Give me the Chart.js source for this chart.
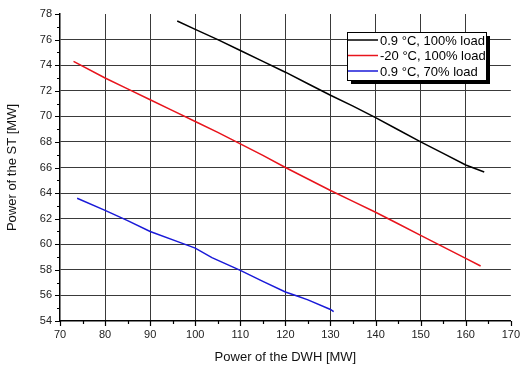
<!DOCTYPE html>
<html>
<head>
<meta charset="utf-8">
<script src="https://cdn.jsdelivr.net/npm/chart.js@4.4.0/dist/chart.umd.min.js"></script>
<style>
  html, body { margin: 0; padding: 0; background: #fff; }
</style>
</head>
<body>
<canvas id="chart" width="520" height="367"></canvas>
<script>
const seriesLabels = ['0.9 °C, 100% load', '-20 °C, 100% load', '0.9 °C, 70% load']
const seriesColors = ['#000000', '#e8141c', '#1a1ad8']

const blackX = [96, 100, 105, 110, 115, 120, 125, 130, 135, 140, 145, 150, 155, 160, 164.1]
const blackY = [77.45, 76.8, 76.0, 75.15, 74.3, 73.45, 72.55, 71.65, 70.8, 69.9, 68.95, 68.0, 67.1, 66.2, 65.65]

const redX = [73.0, 80, 85, 90, 95, 100, 105, 110, 115, 120, 125, 130, 135, 140, 145, 150, 155, 160, 163.3]
const redY = [74.3, 73.0, 72.15, 71.3, 70.45, 69.6, 68.75, 67.85, 66.95, 66.0, 65.1, 64.2, 63.35, 62.5, 61.6, 60.7, 59.8, 58.9, 58.3]

const blueX = [73.8, 80, 85, 90, 96.7, 100, 103.7, 110, 115, 120, 122.6, 125, 130, 130.7]
const blueY = [63.6, 62.65, 61.85, 61.0, 60.13, 59.7, 58.95, 57.96, 57.1, 56.27, 55.95, 55.65, 54.9, 54.73]

const xTicks = { min: 70, max: 170, step: 10, minor: 5 }
const yTicks = { min: 54, max: 78, step: 2, minor: 1 }

const toPoints = (xs, ys) => xs.map((x, i) => ({ x, y: ys[i] }))
const allSeries = [toPoints(blackX, blackY), toPoints(redX, redY), toPoints(blueX, blueY)]

const FONT = 'Arial, "Liberation Sans", sans-serif'

// tick marks (major + minor) drawn on the axes
const axisTicks = {
  id: 'axisTicks',
  afterDraw(chart) {
    const { ctx, chartArea, scales } = chart
    ctx.save()
    ctx.strokeStyle = '#000'
    ctx.lineWidth = 1.2
    ctx.beginPath()
    for (let v = xTicks.min; v <= xTicks.max; v += xTicks.minor) {
      const px = Math.round(scales.x.getPixelForValue(v)) + 0.5
      const len = v % xTicks.step === 0 ? 5 : 3
      ctx.moveTo(px, chartArea.bottom)
      ctx.lineTo(px, chartArea.bottom + len)
    }
    for (let v = yTicks.min; v <= yTicks.max; v += yTicks.minor) {
      const py = Math.round(scales.y.getPixelForValue(v)) + 0.5
      const len = v % yTicks.step === 0 ? 5 : 3
      ctx.moveTo(chartArea.left, py)
      ctx.lineTo(chartArea.left - len, py)
    }
    ctx.stroke()
    ctx.restore()
  },
}

// legend box with drop shadow inside the plot
const boxLegend = {
  id: 'boxLegend',
  afterDraw(chart) {
    const { ctx } = chart
    const x = 347, y = 32, w = 139, h = 48
    ctx.save()
    ctx.fillStyle = '#000'
    ctx.fillRect(x + 4, y + 4, w, h)
    ctx.fillStyle = '#fff'
    ctx.fillRect(x, y, w, h)
    ctx.strokeStyle = '#000'
    ctx.lineWidth = 1
    ctx.strokeRect(x + 0.5, y + 0.5, w, h)
    ctx.font = '13px ' + FONT
    ctx.textBaseline = 'middle'
    chart.data.datasets.forEach((ds, i) => {
      const ly = y + 8 + i * 15.5
      ctx.strokeStyle = ds.borderColor
      ctx.lineWidth = 1.5
      ctx.beginPath()
      ctx.moveTo(x + 1, ly)
      ctx.lineTo(x + 31, ly)
      ctx.stroke()
      ctx.fillStyle = '#000'
      ctx.fillText(ds.label, x + 33, ly + 1)
    })
    ctx.restore()
  },
}

const gridColor = (limits) => (context) => {
  const v = context.tick && context.tick.value
  if (v === limits.min || v === limits.max) return 'rgba(0,0,0,0)'
  return '#3a3a3a'
}

new Chart(document.getElementById('chart'), {
  type: 'line',
  data: {
    datasets: allSeries.map((pts, i) => ({
      label: seriesLabels[i],
      data: pts,
      borderColor: seriesColors[i],
      borderWidth: 1.5,
      pointRadius: 0,
      tension: 0,
      fill: false,
    })),
  },
  options: {
    responsive: false,
    animation: false,
    devicePixelRatio: 1,
    layout: { padding: { top: 14, right: 0, left: 0, bottom: 0 } },
    plugins: { legend: { display: false }, tooltip: { enabled: false } },
    scales: {
      x: {
        type: 'linear',
        min: xTicks.min,
        max: xTicks.max,
        afterFit: (scale) => { scale.height = 46 },
        ticks: { stepSize: xTicks.step, color: '#222', font: { family: FONT, size: 11 }, padding: 0, maxRotation: 0 },
        grid: { color: gridColor(xTicks), lineWidth: 1, drawTicks: true, tickLength: 7, tickColor: 'rgba(0,0,0,0)' },
        border: { display: true, color: '#000', width: 1.5 },
        title: { display: true, text: 'Power of the DWH [MW]', color: '#111', font: { family: FONT, size: 13 }, padding: { top: 0, bottom: 2 } },
      },
      y: {
        min: yTicks.min,
        max: yTicks.max,
        afterFit: (scale) => { scale.width = 60 },
        ticks: { stepSize: yTicks.step, color: '#222', font: { family: FONT, size: 11 }, padding: 0 },
        grid: { color: gridColor(yTicks), lineWidth: 1, drawTicks: true, tickLength: 8, tickColor: 'rgba(0,0,0,0)' },
        border: { display: true, color: '#000', width: 1.5 },
        title: { display: true, text: 'Power of the ST [MW]', color: '#111', font: { family: FONT, size: 13 }, padding: { top: 5, bottom: 0 } },
      },
    },
  },
  plugins: [axisTicks, boxLegend],
})
</script>
</body>
</html>
